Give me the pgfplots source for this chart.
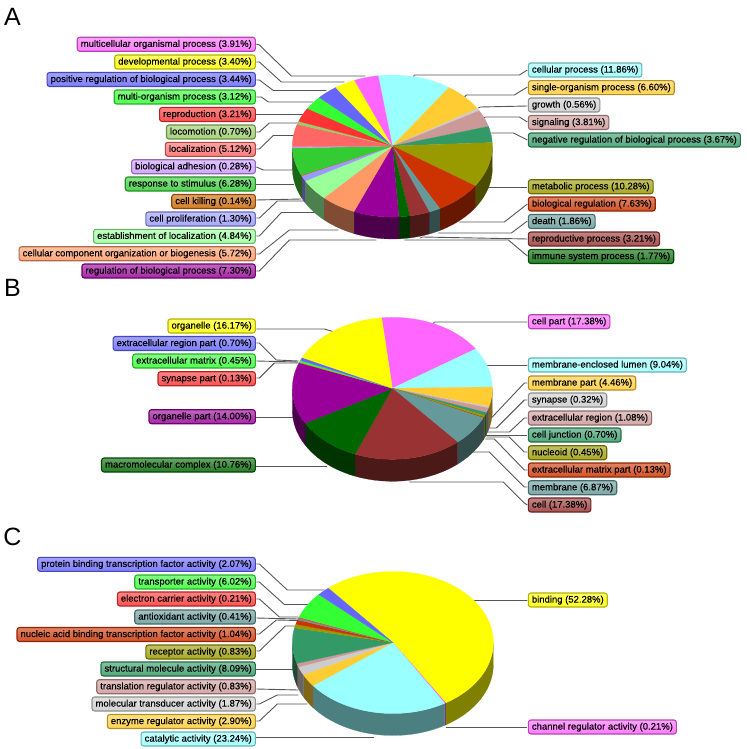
\documentclass[border=0pt]{standalone}
\usepackage{fontspec}
\setmainfont{Liberation Sans}
\newfontfamily\labfont[FakeBold=0.25]{Liberation Sans}
\usepackage{pgfplots}
\pgfplotsset{compat=1.18}
\definecolor{cy}{HTML}{99FFFF}\definecolor{or}{HTML}{FFCC33}\definecolor{gy}{HTML}{CCCCCC}
\definecolor{rs}{HTML}{CC9999}\definecolor{sg}{HTML}{339966}\definecolor{ol}{HTML}{999900}
\definecolor{ru}{HTML}{CC3300}\definecolor{te}{HTML}{669999}\definecolor{br}{HTML}{993333}
\definecolor{dg}{HTML}{006600}\definecolor{pu}{HTML}{990099}\definecolor{sa}{HTML}{FF9966}
\definecolor{lg}{HTML}{99FF99}\definecolor{lb}{HTML}{9999FF}\definecolor{om}{HTML}{CC6600}
\definecolor{mg}{HTML}{33CC33}\definecolor{lv}{HTML}{CC99FF}\definecolor{co}{HTML}{FF6666}
\definecolor{yg}{HTML}{99CC66}\definecolor{re}{HTML}{FF3333}\definecolor{gr}{HTML}{33FF33}
\definecolor{bl}{HTML}{6666FF}\definecolor{ye}{HTML}{FFFF00}\definecolor{pk}{HTML}{FF66FF}
\definecolor{ldr}{HTML}{555555}
% the pie shares, clockwise, as read from the labels
\def\dataA{11.86/cy,6.60/or,0.56/gy,3.81/rs,3.67/sg,10.28/ol,7.63/ru,1.86/te,3.21/br,1.77/dg,7.30/pu,5.72/sa,4.84/lg,1.30/lb,0.14/om,6.28/mg,0.28/lv,5.12/co,0.70/yg,3.21/re,3.12/gr,3.44/bl,3.40/ye,3.91/pk}
\def\dataB{17.38/pk,9.04/cy,4.46/or,0.32/gy,1.08/rs,0.70/sg,0.45/ol,0.13/ru,6.87/te,17.38/br,10.76/dg,14.00/pu,0.13/re,0.45/gr,0.70/bl,16.17/ye}
\def\dataC{52.28/ye,0.21/pk,23.24/cy,2.90/or,1.87/gy,0.83/rs,8.09/sg,0.83/ol,1.04/ru,0.41/te,0.21/re,6.02/gr,2.07/bl}
% #1 cx, #2 cy, #3 rx, #4 ry, #5 depth, #6 start angle, #7 data list
\newcommand\drawpie[7]{%
  \xdef\cur{#6}%
  \foreach \val/\col in #7 {%
    \pgfmathsetmacro\angA{\cur}%
    \pgfmathsetmacro\angB{\cur+3.6*\val}%
    \xdef\cur{\angB}%
    \pgfmathsetmacro\sideA{max(\angA,90)}%
    \pgfmathsetmacro\sideB{min(\angB,270)}%
    \pgfmathtruncatemacro\showit{\sideB>\sideA ? 1 : 0}%
    \ifnum\showit=1
      \pgfmathtruncatemacro\nn{max(1,ceil((\sideB-\sideA)/3))}%
      \gdef\ptsT{}\gdef\ptsB{}%
      \foreach \i in {0,...,\nn} {%
        \pgfmathsetmacro\ang{\sideA+(\sideB-\sideA)*\i/\nn}%
        \pgfmathsetmacro\px{#1+#3*sin(\ang)}%
        \pgfmathsetmacro\py{#2-#4*cos(\ang)}%
        \pgfmathsetmacro\pz{\py+#5}%
        \xdef\ptsT{\ptsT (\px,\py)}%
        \xdef\ptsB{(\px,\pz) \ptsB}%
      }%
      \edef\temp{\noexpand\addplot[fill=\col!50!black,draw=\col!50!black,line width=.2pt] coordinates {\ptsT\space\ptsB} --cycle;}\temp
    \fi
  }%
  \xdef\cur{#6}%
  \foreach \val/\col in #7 {%
    \pgfmathsetmacro\angA{\cur}%
    \pgfmathsetmacro\angB{\cur+3.6*\val}%
    \xdef\cur{\angB}%
    \pgfmathtruncatemacro\nn{max(1,ceil((\angB-\angA)/3))}%
    \xdef\ptsT{(#1,#2)}%
    \foreach \i in {0,...,\nn} {%
      \pgfmathsetmacro\ang{\angA+(\angB-\angA)*\i/\nn}%
      \pgfmathsetmacro\px{#1+#3*sin(\ang)}%
      \pgfmathsetmacro\py{#2-#4*cos(\ang)}%
      \xdef\ptsT{\ptsT (\px,\py)}%
    }%
    \edef\temp{\noexpand\addplot[fill=\col,draw=\col,line width=.2pt] coordinates {\ptsT} --cycle;}\temp
  }%
}
\tikzset{lab/.style={rounded corners=2.5pt,draw=#1!70!black,line width=1.1pt,top color=#1!60!white,bottom color=#1!85!white,
  inner xsep=3.5pt,inner ysep=0pt,minimum height=14pt,text height=7.2pt,text depth=2pt,text=black,
  font=\labfont\fontsize{9.5}{11}\selectfont}}
\newcommand\lbl[3]{\node[lab=#1,anchor=east] at (axis cs:254.5,#2) {#3};}
\newcommand\rbl[3]{\node[lab=#1,anchor=west] at (axis cs:526.5,#2) {#3};}
\newcommand\ld[1]{\addplot[color=ldr,line width=.9pt] coordinates {#1};}
\begin{document}
\begin{tikzpicture}
\begin{axis}[scale only axis,width=745pt,height=749pt,xmin=0,xmax=745,ymin=0,ymax=749,y dir=reverse,hide axis,clip=false]
\path[draw=none] (axis cs:0,0) rectangle (axis cs:745,749);
% leaders A
\ld{(255,44) (258,45) (290,76) (364,76)}
\ld{(255,62) (258,62) (280,82) (343,82)}
\ld{(255,80) (258,80) (272,90.5) (325,90.5)}
\ld{(255,97) (260,97) (267,102) (312,102)}
\ld{(255,114.5) (303,114.5)}
\ld{(255,132) (258,132) (268,123) (298,123)}
\ld{(255,149) (258,149) (272,135.5) (293,135.5)}
\ld{(255,167) (262,170) (293,170)}
\ld{(255,184) (293,184)}
\ld{(255,200) (300,199)}
\ld{(255,218) (258,218) (276,201) (304,201)}
\ld{(255,236) (258,236) (280,212.5) (315,212.5)}
\ld{(255,254) (258,254) (288,230) (337,230)}
\ld{(255,271) (258,271) (288,240) (375,240)}
\ld{(412,77) (413,75) (518,75) (526,70)}
\ld{(463,97) (465,95) (513,95) (526,87)}
\ld{(477,108) (479,107) (526,106)}
\ld{(482,118) (484,117) (518,117) (526,122)}
\ld{(490,133) (512,133) (526,140)}
\ld{(487,187) (526,187)}
\ld{(458,222) (503,222) (526,204)}
\ld{(437,233) (510,233) (526,221)}
\ld{(419,238) (421,237) (526,239)}
\ld{(403,240) (507,240) (526,256)}
% leaders B
\ld{(255,329) (323,329) (333,332)}
\ld{(255,343) (258,343) (275,360) (297,361)}
\ld{(255,361) (297,362)}
\ld{(255,378) (258,378) (273,363) (297,363)}
\ld{(255,417) (292,417)}
\ld{(255,466) (326,466)}
\ld{(432,324) (433,322) (526,322)}
\ld{(485,366) (487,365.5) (526,365.5)}
\ld{(490,418) (523,383) (526,383)}
\ld{(488,428) (495,428) (523,400) (526,400)}
\ld{(485,432) (508,432) (523,418) (526,418)}
\ld{(485,435) (526,435)}
\ld{(485,437) (508,437) (523,452) (526,452)}
\ld{(484,439) (493,439) (523,470) (526,470)}
\ld{(470,452) (488,452) (523,487) (526,487)}
\ld{(408,482) (410,482) (502,482) (523,503) (526,505)}
% leaders C
\ld{(255,564) (258,564) (286,590) (323,590)}
\ld{(255,582) (258,582) (283,604.5) (307,604.5)}
\ld{(255,599) (258,599) (278,617) (297,617)}
\ld{(255,618) (297,619)}
\ld{(255,634) (258,634) (275,620) (297,620.5)}
\ld{(255,651) (258,651) (284,626) (295,626)}
\ld{(255,669) (293,669)}
\ld{(255,689) (297,690)}
\ld{(255,704) (258,704) (276,695) (297,695)}
\ld{(255,721) (258,721) (276,704) (306,704)}
\ld{(255,737) (373,737)}
\ld{(472,601) (474,600.5) (526,600.5)}
\ld{(445,727) (526,727)}
% pies
\drawpie{391}{146}{100}{71}{22}{-8.2}{\dataA}
\drawpie{391}{388.3}{100}{71}{22}{-6.2}{\dataB}
\drawpie{391.5}{642.5}{100.5}{71}{22}{-40}{\dataC}
% labels A
\lbl{pk}{44.3}{multicellular organismal process (3.91\%)}
\lbl{ye}{62}{developmental process (3.40\%)}
\lbl{bl}{79.5}{positive regulation of biological process (3.44\%)}
\lbl{gr}{97}{multi-organism process (3.12\%)}
\lbl{re}{114.5}{reproduction (3.21\%)}
\lbl{yg}{132}{locomotion (0.70\%)}
\lbl{co}{149.3}{localization (5.12\%)}
\lbl{lv}{166.7}{biological adhesion (0.28\%)}
\lbl{mg}{184}{response to stimulus (6.28\%)}
\lbl{om}{201.5}{cell killing (0.14\%)}
\lbl{lb}{219}{cell proliferation (1.30\%)}
\lbl{lg}{236.3}{establishment of localization (4.84\%)}
\lbl{sa}{253.7}{cellular component organization or biogenesis (5.72\%)}
\lbl{pu}{271}{regulation of biological process (7.30\%)}
\rbl{cy}{70}{cellular process (11.86\%)}
\rbl{or}{87.7}{single-organism process (6.60\%)}
\rbl{gy}{105}{growth (0.56\%)}
\rbl{rs}{122.5}{signaling (3.81\%)}
\rbl{sg}{140}{negative regulation of biological process (3.67\%)}
\rbl{ol}{186.7}{metabolic process (10.28\%)}
\rbl{ru}{204}{biological regulation (7.63\%)}
\rbl{te}{221.5}{death (1.86\%)}
\rbl{br}{239}{reproductive process (3.21\%)}
\rbl{dg}{256.5}{immune system process (1.77\%)}
% labels B
\lbl{ye}{326}{organelle (16.17\%)}
\lbl{bl}{343.5}{extracellular region part (0.70\%)}
\lbl{gr}{361}{extracellular matrix (0.45\%)}
\lbl{re}{378.7}{synapse part (0.13\%)}
\lbl{pu}{416.7}{organelle part (14.00\%)}
\lbl{dg}{465}{macromolecular complex (10.76\%)}
\rbl{pk}{321.7}{cell part (17.38\%)}
\rbl{cy}{365}{membrane-enclosed lumen (9.04\%)}
\rbl{or}{383}{membrane part (4.46\%)}
\rbl{gy}{400}{synapse (0.32\%)}
\rbl{rs}{418}{extracellular region (1.08\%)}
\rbl{sg}{435}{cell junction (0.70\%)}
\rbl{ol}{452.7}{nucleoid (0.45\%)}
\rbl{ru}{470}{extracellular matrix part (0.13\%)}
\rbl{te}{487.7}{membrane (6.87\%)}
\rbl{br}{505}{cell (17.38\%)}
% labels C
\lbl{bl}{564.3}{protein binding transcription factor activity (2.07\%)}
\lbl{gr}{582}{transporter activity (6.02\%)}
\lbl{re}{599}{electron carrier activity (0.21\%)}
\lbl{te}{617}{antioxidant activity (0.41\%)}
\lbl{ru}{634.5}{nucleic acid binding transcription factor activity (1.04\%)}
\lbl{ol}{652}{receptor activity (0.83\%)}
\lbl{sg}{669}{structural molecule activity (8.09\%)}
\lbl{rs}{686.7}{translation regulator activity (0.83\%)}
\lbl{gy}{704}{molecular transducer activity (1.87\%)}
\lbl{or}{721.5}{enzyme regulator activity (2.90\%)}
\lbl{cy}{739}{catalytic activity (23.24\%)}
\rbl{ye}{600}{binding (52.28\%)}
\rbl{pk}{727}{channel regulator activity (0.21\%)}
% panel letters
\node[font=\fontsize{25}{25}\selectfont,anchor=center] at (axis cs:11,17) {A};
\node[font=\fontsize{25}{25}\selectfont,anchor=center] at (axis cs:11,288) {B};
\node[font=\fontsize{25}{25}\selectfont,anchor=center] at (axis cs:11,537) {C};
\end{axis}
\end{tikzpicture}
\end{document}
